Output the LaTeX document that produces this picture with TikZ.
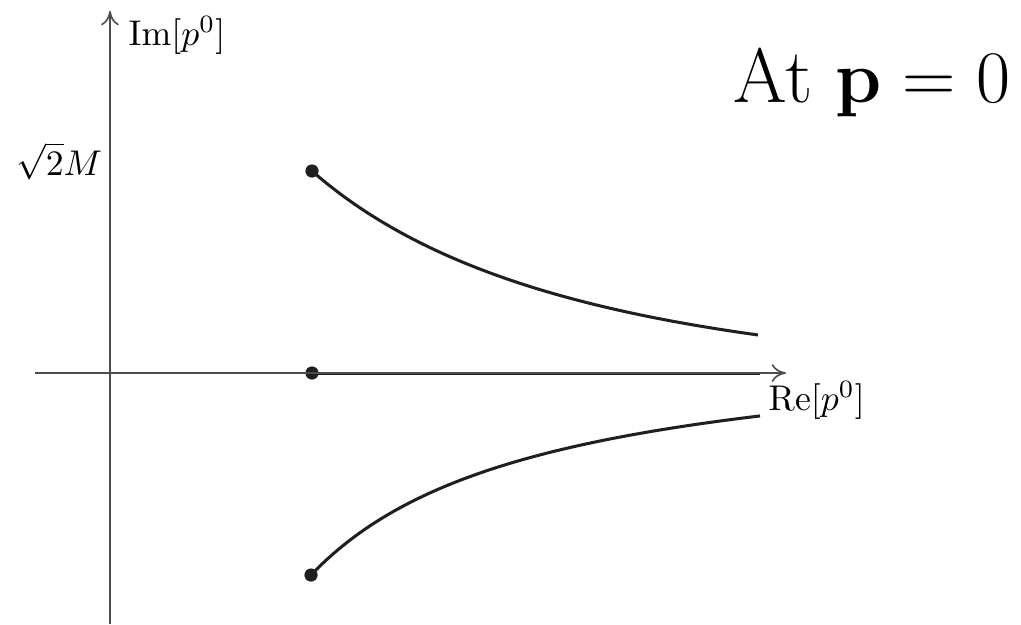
\documentclass[tikz,border=0pt]{standalone}
\usetikzlibrary{arrows.meta}
\begin{document}
\begin{tikzpicture}[x=0.28pt,y=-0.28pt,
  axisline/.style={draw=black!70,line width=0.45pt,-{To[length=4pt,width=5pt]}},
  cutline/.style={draw=black!88,line width=0.85pt},
  dotnode/.style={circle,fill=black!88,inner sep=0pt,minimum size=3.7pt},
  lbl/.style={inner sep=0pt}]
\useasboundingbox (0,0) rectangle (1021,624);
% axes
\coordinate (yb) at (110,624);
\coordinate (yt) at (110,11);
\coordinate (xl) at (35,373);
\coordinate (xr) at (786,373);
% branch points and ends
\node[dotnode] (top) at (312,171) {};
\node[dotnode] (mid) at (312,373) {};
\node[dotnode] (bot) at (311,575) {};
\coordinate (midend) at (760,373);
\draw[cutline] plot[domain=312:758,samples=80,smooth]
  (\x,{373-(101*exp(-0.00374*(\x-312))-28.75+336.77/((\x-312+259.6)/100))});
\draw[cutline] plot[domain=311:760,samples=80,smooth]
  (\x,{373+(-38.2+549.93/((\x-311+228.9)/100))});
\draw[cutline] (mid.center) -- (midend);
\draw[axisline] (yb) -- (yt);
\draw[axisline] (xl) -- (xr);
% labels
\node[lbl,anchor=base west] (imlbl) at (128,45) {$\mathrm{Im}[p^0]$};
\node[lbl,anchor=base west] (relbl) at (768,410) {$\mathrm{Re}[p^0]$};
\node[lbl,anchor=base east] (mlbl) at (103,175) {$\sqrt{2}M$};
\node[lbl,anchor=base west] (title) at (733,102) {\fontsize{21.6}{25}\selectfont At $\mathbf{p}=0$};
\end{tikzpicture}
\end{document}
